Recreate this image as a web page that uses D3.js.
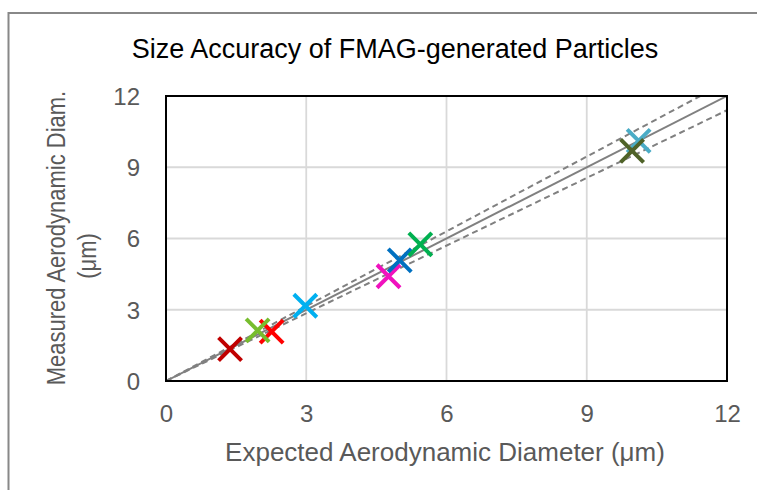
<!DOCTYPE html>
<html><head><meta charset="utf-8">
<script src="https://cdn.jsdelivr.net/npm/d3@7/dist/d3.min.js"></script>
<style>body{margin:0;background:#fff}svg{display:block}text{font-family:"Liberation Sans",Arial,sans-serif}</style>
</head><body><svg id="c" width="757" height="490"></svg>
<script>
const expected = [1.37, 2.26, 1.96, 2.98, 4.76, 5.00, 5.44, 10.11, 9.97];
const measured = [1.34, 2.08, 2.13, 3.17, 4.41, 5.08, 5.75, 10.11, 9.69];
const colors = ["#C00000", "#FF0000", "#77BD2E", "#00B0F0", "#F011BE", "#0070C0", "#00B050", "#4BACC6", "#4F6228"];
const xTicks = [0, 3, 6, 9, 12];
const yTicks = [0, 3, 6, 9, 12];
const refSlopes = [1, 1.05, 0.95];
const title = "Size Accuracy of FMAG-generated Particles";
const xTitle = "Expected Aerodynamic Diameter (μm)";
const yTitle = ["Measured Aerodynamic Diam.", "(μm)"];

const svg = d3.select("#c");
const L = 166, R = 727, T = 96, B = 381;
const x = d3.scaleLinear().domain([0, 12]).range([L, R]);
const y = d3.scaleLinear().domain([0, 12]).range([B, T]);

// outer frame
svg.append("rect").attr("x", 8.5).attr("y", 13).attr("width", 760).attr("height", 490)
  .attr("fill", "none").attr("stroke", "#888").attr("stroke-width", 2);

// grid
const grid = svg.append("g");
grid.selectAll(".gx").data(xTicks.slice(1, -1)).join("line")
  .attr("x1", d => x(d)).attr("x2", d => x(d)).attr("y1", T).attr("y2", B)
  .attr("stroke", "#D9D9D9").attr("stroke-width", 1.8);
grid.selectAll(".gy").data(yTicks.slice(1, -1)).join("line")
  .attr("y1", d => y(d)).attr("y2", d => y(d)).attr("x1", L).attr("x2", R)
  .attr("stroke", "#D9D9D9").attr("stroke-width", 1.8);

// axes labels via d3 axes
const xAxis = d3.axisBottom(x).tickValues(xTicks).tickSize(0).tickPadding(0);
const gx = svg.append("g").attr("transform", `translate(0,${B})`).call(xAxis);
gx.select(".domain").remove();
gx.selectAll("text").attr("font-size", 24).attr("fill", "#595959").attr("dy", null).attr("y", 41)
  .style("font-family", '"Liberation Sans",Arial,sans-serif');
const yAxis = d3.axisLeft(y).tickValues(yTicks).tickSize(0).tickPadding(0);
const gy = svg.append("g").attr("transform", `translate(140,0)`).call(yAxis);
gy.select(".domain").remove();
gy.selectAll("text").attr("font-size", 24).attr("fill", "#595959").attr("dy", "0.35em").attr("x", 0)
  .style("font-family", '"Liberation Sans",Arial,sans-serif');

// clip
svg.append("clipPath").attr("id", "pc").append("rect")
  .attr("x", L).attr("y", T).attr("width", R - L).attr("height", B - T);

// reference lines
const line = d3.line().x(d => x(d[0])).y(d => y(d[1]));
const lg = svg.append("g").attr("clip-path", "url(#pc)");
refSlopes.forEach((s, i) => {
  lg.append("path").datum([[0, 0], [12, 12 * s]]).attr("d", line)
    .attr("fill", "none").attr("stroke", "#808080").attr("stroke-width", 2)
    .attr("stroke-dasharray", i === 0 ? null : "6,4");
});

// plot border
svg.append("rect").attr("x", L).attr("y", T).attr("width", R - L).attr("height", B - T)
  .attr("fill", "none").attr("stroke", "#000").attr("stroke-width", 2);

// markers
const h = 11.5;
const mg = svg.append("g");
expected.forEach((ex, i) => {
  const cx = x(ex), cy = y(measured[i]);
  mg.append("path").attr("d", `M${cx - h},${cy - h}L${cx + h},${cy + h}M${cx - h},${cy + h}L${cx + h},${cy - h}`)
    .attr("stroke", colors[i]).attr("stroke-width", 4).attr("fill", "none");
});

// titles
svg.append("text").attr("x", 395).attr("y", 58).attr("text-anchor", "middle")
  .attr("font-size", 27).attr("fill", "#000").text(title);
svg.append("text").attr("x", 445).attr("y", 461).attr("text-anchor", "middle")
  .attr("font-size", 26).attr("fill", "#595959").text(xTitle);
[[65, 238], [96, 256]].forEach((p, i) => {
  svg.append("text").attr("transform", `translate(${p[0]},${p[1]}) rotate(-90) scale(1,1.2)`).attr("text-anchor", "middle")
    .attr("font-size", 22).attr("fill", "#595959").text(yTitle[i]);
});
</script></body></html>
